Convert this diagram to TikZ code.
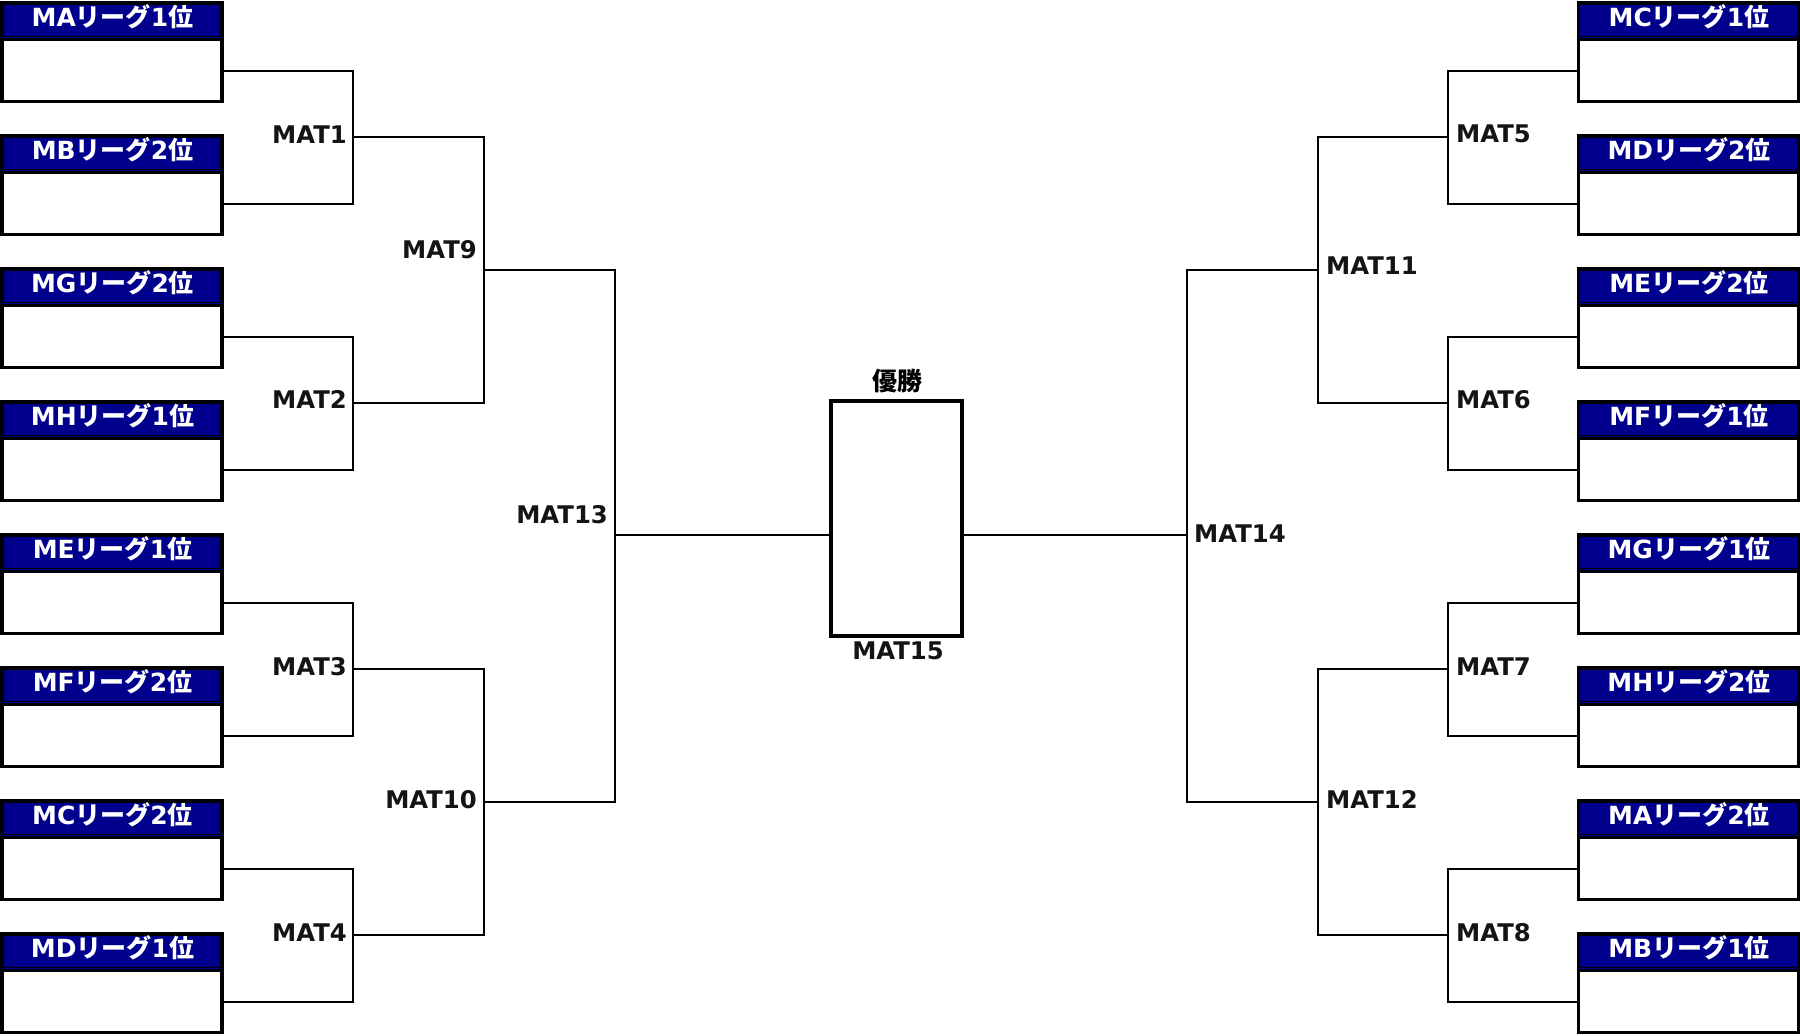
\documentclass[tikz,border=0pt]{standalone}
\usepackage{fontspec}
\setmainfont{DejaVu Sans}
\newfontfamily\jpfont{Noto Sans CJK JP}
\usetikzlibrary{calc}
\definecolor{hdrnavy}{RGB}{0,0,140}
\newcommand\lgname[2]{#1{\jpfont リーグ}#2{\jpfont 位}}
\begin{document}
\begin{tikzpicture}[x=1pt,y=-1pt,
  frame/.style={draw=black,line width=3.5pt,fill=white,minimum width=220pt,minimum height=98.5pt,inner sep=0pt},
  hdr/.style={fill=hdrnavy,minimum width=216.5pt,minimum height=31pt,inner sep=0pt},
  hdrtext/.style={text=white,inner sep=0pt,font=\bfseries\fontsize{25}{28}\selectfont},
  sep/.style={line width=2.3pt,black},
  thinblack/.style={line width=1.2pt,black},
  thinsep/.style={line width=1.5pt,hdrnavy},
  conn/.style={line width=2pt,black},
  lab/.style={font=\bfseries\fontsize{24.3}{28}\selectfont,text=black!92,inner sep=0pt},
  winbox/.style={draw=black,line width=3.5pt,fill=white,minimum width=131pt,minimum height=235pt,inner sep=0pt}]
\useasboundingbox (0,0) rectangle (1800,1036);
\fill[white] (0,0) rectangle (1800,1036);

% left boxes
\foreach \i/\txt in {0/{\lgname{MA}{1}},1/{\lgname{MB}{2}},2/{\lgname{MG}{2}},3/{\lgname{MH}{1}},4/{\lgname{ME}{1}},5/{\lgname{MF}{2}},6/{\lgname{MC}{2}},7/{\lgname{MD}{1}}}{
  \pgfmathsetmacro\T{133*\i+1}
  \node[frame] (L\i) at (111.75,\T+51.25) {};
  \node[hdr] (Lh\i) at (111.75,\T+19) {};
  \node[hdrtext] (Lt\i) at (112.5,\T+16) {\txt};
  \draw[thinblack] ($(L\i.west)+(1.75,-16.15)$) -- ($(L\i.east)+(-1.75,-16.15)$);
  \draw[thinsep] ($(L\i.west)+(1.75,-14.8)$) -- ($(L\i.east)+(-1.75,-14.8)$);
  \draw[sep] ($(L\i.west)+(0,-12.9)$) -- ($(L\i.east)+(0,-12.9)$);
  \coordinate (Lp\i) at ($(L\i.east)+(0,18.25)$);
}
% right boxes
\foreach \i/\txt in {0/{\lgname{MC}{1}},1/{\lgname{MD}{2}},2/{\lgname{ME}{2}},3/{\lgname{MF}{1}},4/{\lgname{MG}{1}},5/{\lgname{MH}{2}},6/{\lgname{MA}{2}},7/{\lgname{MB}{1}}}{
  \pgfmathsetmacro\T{133*\i+1}
  \node[frame] (R\i) at (1688.25,\T+51.25) {};
  \node[hdr] (Rh\i) at (1688.25,\T+19) {};
  \node[hdrtext] (Rt\i) at (1689,\T+16) {\txt};
  \draw[thinblack] ($(R\i.west)+(1.75,-16.15)$) -- ($(R\i.east)+(-1.75,-16.15)$);
  \draw[thinsep] ($(R\i.west)+(1.75,-14.8)$) -- ($(R\i.east)+(-1.75,-14.8)$);
  \draw[sep] ($(R\i.west)+(0,-12.9)$) -- ($(R\i.east)+(0,-12.9)$);
  \coordinate (Rp\i) at ($(R\i.west)+(0,18.25)$);
}

% winner box
\node[winbox] (W) at (896.5,518.5) {};
\node[font=\jpfont\bfseries\fontsize{25}{28}\selectfont,inner sep=0pt] (Wt) at (897,381) {優勝};
\node[lab] (W15) at (898,651) {MAT15};

% junctions left
\coordinate (J1) at (353,136.5);
\coordinate (J2) at (353,402.5);
\coordinate (J3) at (353,668.5);
\coordinate (J4) at (353,934.5);
\coordinate (J9) at (484,269.5);
\coordinate (J10) at (484,801.5);
\coordinate (J13) at (615,534.5);
% junctions right
\coordinate (J5) at (1448,136.5);
\coordinate (J6) at (1448,402.5);
\coordinate (J7) at (1448,668.5);
\coordinate (J8) at (1448,934.5);
\coordinate (J11) at (1318,269.5);
\coordinate (J12) at (1318,801.5);
\coordinate (J14) at (1187,534.5);

% connectors left
\draw[conn] (Lp0) -| (J1) |- (Lp1);
\draw[conn] (Lp2) -| (J2) |- (Lp3);
\draw[conn] (Lp4) -| (J3) |- (Lp5);
\draw[conn] (Lp6) -| (J4) |- (Lp7);
\draw[conn] (J1) -| (J9) |- (J2);
\draw[conn] (J3) -| (J10) |- (J4);
\draw[conn] (J9) -| (J13) |- (J10);
\draw[conn] (J13) -- (J13 -| W.west);
% connectors right
\draw[conn] (Rp0) -| (J5) |- (Rp1);
\draw[conn] (Rp2) -| (J6) |- (Rp3);
\draw[conn] (Rp4) -| (J7) |- (Rp5);
\draw[conn] (Rp6) -| (J8) |- (Rp7);
\draw[conn] (J5) -| (J11) |- (J6);
\draw[conn] (J7) -| (J12) |- (J8);
\draw[conn] (J11) -| (J14) |- (J12);
\draw[conn] (J14) -- (J14 -| W.east);

% labels left
\node[lab,anchor=east] (t1) at ($(J1)+(-6,-2)$) {MAT1};
\node[lab,anchor=east] (t2) at ($(J2)+(-6,-3)$) {MAT2};
\node[lab,anchor=east] (t3) at ($(J3)+(-6,-2)$) {MAT3};
\node[lab,anchor=east] (t4) at ($(J4)+(-6,-2)$) {MAT4};
\node[lab,anchor=east] (t9) at ($(J9)+(-7,-20)$) {MAT9};
\node[lab,anchor=east] (t10) at ($(J10)+(-7,-2)$) {MAT10};
\node[lab,anchor=east] (t13) at ($(J13)+(-7,-20)$) {MAT13};
% labels right
\node[lab,anchor=west] (t5) at ($(J5)+(8,-3)$) {MAT5};
\node[lab,anchor=west] (t6) at ($(J6)+(8,-3)$) {MAT6};
\node[lab,anchor=west] (t7) at ($(J7)+(8,-2)$) {MAT7};
\node[lab,anchor=west] (t8) at ($(J8)+(8,-2)$) {MAT8};
\node[lab,anchor=west] (t11) at ($(J11)+(8,-4)$) {MAT11};
\node[lab,anchor=west] (t12) at ($(J12)+(8,-2)$) {MAT12};
\node[lab,anchor=west] (t14) at ($(J14)+(7,-1)$) {MAT14};
\end{tikzpicture}
\end{document}
